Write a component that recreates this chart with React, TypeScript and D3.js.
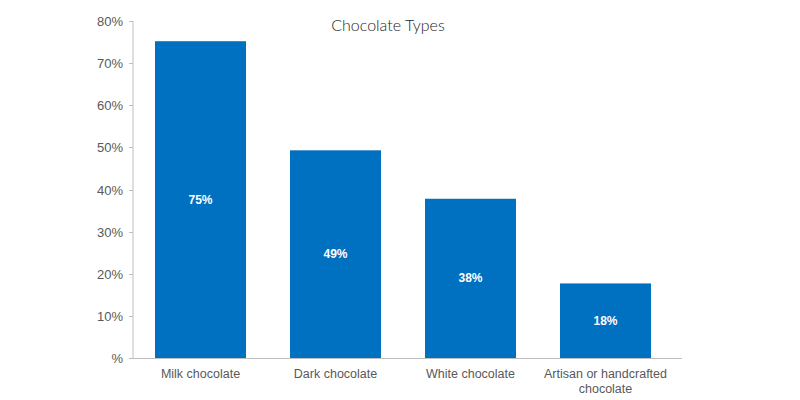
import * as d3 from "d3";

const categories = ["Milk chocolate", "Dark chocolate", "White chocolate", "Artisan or handcrafted chocolate"];
const values = [75.2, 49.3, 37.8, 17.7];
const valueLabels = ["75%", "49%", "38%", "18%"];
const yTicks = [0, 10, 20, 30, 40, 50, 60, 70, 80];

const W = 800;
const H = 400;
const margin = { top: 21, right: 118, bottom: 42, left: 133 };

function wrapLabel(s: string): string[] {
  if (s.length < 20) return [s];
  const words = s.split(" ");
  const last = words.pop() as string;
  return [words.join(" "), last];
}

export default function App() {
  const innerW = W - margin.left - margin.right;
  const innerH = H - margin.top - margin.bottom;

  const x = d3.scaleBand().domain(categories).range([0, 540]).paddingInner(0.326).paddingOuter(0.163);
  const y = d3.scaleLinear().domain([0, 80]).range([innerH, 0]);

  return (
    <svg
      width={W}
      height={H}
      style={{ position: "absolute", left: 0, top: 0, background: "#fff" }}
      fontFamily="'Liberation Sans', Arial, sans-serif"
    >
      <text x={388} y={31} textAnchor="middle" fontSize={16} fontFamily="Lato" fontWeight={300} fill="#262626">
        Chocolate Types
      </text>
      <g transform={`translate(${margin.left},${margin.top})`}>
        {categories.map((c, i) => {
          const bx = x(c)!;
          const by = y(values[i]);
          return (
            <g key={c}>
              <rect x={bx} y={by} width={x.bandwidth()} height={innerH - by} fill="#0070c0" />
              <text
                x={bx + x.bandwidth() / 2}
                y={(by + innerH) / 2 + 4}
                textAnchor="middle"
                fontSize={12}
                fontWeight="bold"
                fill="#fff"
              >
                {valueLabels[i]}
              </text>
              {wrapLabel(c).map((line, j) => (
                <text
                  key={j}
                  x={bx + x.bandwidth() / 2}
                  y={innerH + 20 + j * 15}
                  textAnchor="middle"
                  fontSize={12.5}
                  fill="#595959"
                >
                  {line}
                </text>
              ))}
            </g>
          );
        })}
        <line x1={0} x2={0} y1={0} y2={innerH} stroke="#bfbfbf" />
        <line x1={0} x2={innerW} y1={innerH + 0.5} y2={innerH + 0.5} stroke="#bfbfbf" />
        {yTicks.map((t) => (
          <g key={t} transform={`translate(0,${Math.round(y(t)) + 0.5})`}>
            <line x1={-4} x2={0} stroke="#bfbfbf" />
            <text x={-10} y={4.5} textAnchor="end" fontSize={13} fill="#595959">
              {t === 0 ? "%" : `${t}%`}
            </text>
          </g>
        ))}
      </g>
    </svg>
  );
}
